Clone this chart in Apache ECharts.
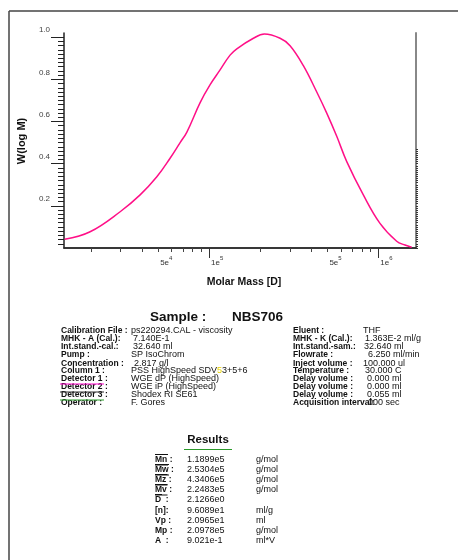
<!DOCTYPE html>
<html><head><meta charset="utf-8">
<script src="https://cdn.jsdelivr.net/npm/echarts@6/dist/echarts.min.js"></script>
<style>html,body{margin:0;padding:0;background:#fff}#c{width:458px;height:560px}</style>
</head><body><div id="c"></div>
<script>
// ---- data ----
const molarMass = [14000, 19800, 29800, 39100, 49100, 58800, 67400, 73900, 88500, 101400, 116100, 133000, 145800, 182700, 212100, 262700, 300900, 360600, 432700, 495700, 567900, 650800, 815500, 1023000, 1284000, 1438000, 1575000];
const wlogM     = [0.041, 0.077, 0.172, 0.252, 0.338, 0.426, 0.500, 0.550, 0.690, 0.775, 0.845, 0.915, 0.945, 0.995, 1.015, 0.995, 0.960, 0.865, 0.740, 0.640, 0.530, 0.410, 0.252, 0.117, 0.032, 0.014, 0.004];
const yTickValues = [0.2, 0.4, 0.6, 0.8, 1.0];
const xMinorTickValues = [2e4,3e4,4e4,5e4,6e4,7e4,8e4,9e4,2e5,3e5,4e5,5e5,6e5,7e5,8e5,9e5];
const xMajorTickValues = [1e5, 1e6];
const xLabelValues = [5e4, 1e5, 5e5, 1e6];
const xMin = 13880, xMax = 1670000, yMax = 1.02;

const sampleName = 'NBS706';
const leftLabels = ['Calibration File :', 'MHK - A (Cal.):', 'Int.stand.-cal.:', 'Pump :', 'Concentration :', 'Column 1 :', 'Detector 1 :', 'Detector 2 :', 'Detector 3 :', 'Operator :'];
const leftValues = ['ps220294.CAL - viscosity', '7.140E-1', '32.640 ml', 'SP IsoChrom', '2.817 g/l', 'PSS HighSpeed SDV{y|5}3+5+6', 'WGE dP (HighSpeed)', 'WGE iP (HighSpeed)', 'Shodex RI SE61', 'F. Gores'];
const rightLabels = ['Eluent :', 'MHK - K (Cal.):', 'Int.stand.-sam.:', 'Flowrate :', 'Inject volume :', 'Temperature :', 'Delay volume :', 'Delay volume :', 'Delay volume :', 'Acquisition interval:'];
const rightValues = ['THF', '1.363E-2 ml/g', '32.640 ml', '6.250 ml/min', '100.000 ul', '30.000 C', '0.000 ml', '0.000 ml', '0.055 ml', '000 sec'];
const resultLabels = ['Mn :', 'Mw :', 'Mz :', 'Mv :', 'D  :', '[n]:', 'Vp :', 'Mp :', 'A  :'];
const resultValues = ['1.1899e5', '2.5304e5', '4.3406e5', '2.2483e5', '2.1266e0', '9.6089e1', '2.0965e1', '2.0978e5', '9.021e-1'];
const resultUnits = ['g/mol', 'g/mol', 'g/mol', 'g/mol', '', 'ml/g', 'ml', 'g/mol', 'ml*V'];

// ---- layout helpers ----
const FAM = '"Liberation Sans", Arial, sans-serif';
const yMinorTickValues = [];
for (let i = 1; i < 50; i++) { if (i % 10 !== 0) yMinorTickValues.push(Math.round(i * 2) / 100); }
const rightMarks = [];
for (let i = 0; i <= 47; i++) rightMarks.push(i / 100);

function txt(x, y, text, o) {
  o = o || {};
  return { type: 'text', x: x, y: y, silent: true, z: 10,
    style: { text: text, fill: o.fill || '#111', font: (o.bold ? 'bold ' : '') + (o.size || 9) + 'px ' + FAM,
      align: o.align || 'left', verticalAlign: 'middle', rich: o.rich } };
}
function ln(x1, y1, x2, y2, stroke, w) {
  return { type: 'line', silent: true, z: 10, shape: { x1: x1, y1: y1, x2: x2, y2: y2 }, style: { stroke: stroke, lineWidth: w || 1 } };
}

const graphics = [];
graphics.push(ln(9, 11, 458, 11, '#444', 1.5));
graphics.push(ln(9, 11, 9, 560, '#444', 1.5));
graphics.push({ type: 'text', x: 22, y: 141, rotation: Math.PI / 2, silent: true,
  style: { text: 'W(log M)', fill: '#111', font: 'bold 11px ' + FAM, align: 'center', verticalAlign: 'middle' } });
graphics.push(txt(244, 282, 'Molar Mass [D]', { bold: true, size: 10.5, align: 'center' }));
graphics.push(txt(150, 317, 'Sample :', { bold: true, size: 13.5 }));
graphics.push(txt(232, 317, sampleName, { bold: true, size: 13.5 }));

const LB = 8.5;
const leftY = [331, 339, 347, 355, 364, 371, 379, 387, 395, 403];
const leftValX = [131, 133, 133, 131, 134, 131, 131, 131, 131, 131];
const rightValX = [363, 365, 364, 368, 363, 365, 367, 367, 367, 368];
leftLabels.forEach((t, i) => graphics.push(txt(61, leftY[i], t, { bold: true, size: LB })));
leftValues.forEach((t, i) => graphics.push(txt(leftValX[i], leftY[i], t, { rich: { y: { fill: '#e6d200', font: '9px ' + FAM } } })));
rightLabels.forEach((t, i) => graphics.push(txt(293, leftY[i], t, { bold: true, size: LB })));
rightValues.forEach((t, i) => graphics.push(txt(rightValX[i], leftY[i], t)));
graphics.push(ln(60, 384, 104, 384, '#ff00cc', 1));
graphics.push(ln(60, 392, 104, 392, '#333', 1));
graphics.push(ln(60, 400, 104, 400, '#2aa02a', 1));

graphics.push(txt(208, 440, 'Results', { bold: true, size: 11.5, align: 'center' }));
graphics.push(ln(184, 449.5, 232, 449.5, '#2a9a2a', 1));
const resY = [460, 470, 480, 490, 500, 511, 521, 531, 541];
const markW = [13, 14, 12.5, 12.5, 7];
resultLabels.forEach((t, i) => {
  graphics.push(txt(155, resY[i], t, { bold: true, size: LB }));
  graphics.push(txt(187, resY[i], resultValues[i]));
  if (resultUnits[i]) graphics.push(txt(256, resY[i], resultUnits[i]));
  if (i < 5) graphics.push(ln(155, resY[i] - 5.5, 155 + markW[i], resY[i] - 5.5, '#111', 1));
  if (i < 4) graphics.push(ln(155, resY[i] + 5, 155 + markW[i], resY[i] + 5, '#111', 1));
});

function xFmt(v) {
  const e = Math.floor(Math.log10(v) + 1e-9);
  const m = Math.round(v / Math.pow(10, e));
  return '{b|' + m + 'e}{s|' + e + '}';
}

const chart = echarts.init(document.getElementById('c'));
chart.setOption({
  animation: false,
  backgroundColor: '#fff',
  textStyle: { fontFamily: FAM },
  grid: { left: 64, top: 33, right: 42, bottom: 312, containLabel: false, outerBoundsMode: 'none' },
  xAxis: [
    { type: 'log', min: xMin, max: xMax, position: 'bottom',
      axisLine: { show: true, lineStyle: { color: '#555', width: 1.5 } },
      axisTick: { show: true, customValues: xMinorTickValues, length: 4, lineStyle: { color: '#444', width: 1 } },
      minorTick: { show: false }, splitLine: { show: false },
      axisLabel: { customValues: xLabelValues, formatter: xFmt, align: 'left', margin: 7, padding: [0, 0, 0, 2],
        rich: { b: { fontSize: 8, color: '#333', lineHeight: 12, verticalAlign: 'bottom', fontFamily: FAM },
                s: { fontSize: 6, color: '#333', lineHeight: 12, verticalAlign: 'top', fontFamily: FAM } } } },
    { type: 'log', min: xMin, max: xMax, position: 'bottom',
      axisLine: { show: false },
      axisTick: { show: true, customValues: xMajorTickValues, length: 10, lineStyle: { color: '#333', width: 1 } },
      axisLabel: { show: false }, splitLine: { show: false } },
    { type: 'log', min: xMin, max: xMax, position: 'top',
      axisLine: { show: true, lineStyle: { color: '#222', width: 1.5 } },
      axisTick: { show: false }, axisLabel: { show: false }, splitLine: { show: false } }
  ],
  yAxis: [
    { type: 'value', min: 0, max: yMax, position: 'left',
      axisLine: { show: true, lineStyle: { color: '#222', width: 1.5 } },
      axisTick: { show: true, customValues: yTickValues, length: 13, lineStyle: { color: '#222', width: 1 } },
      axisLabel: { customValues: yTickValues, formatter: v => v.toFixed(1), margin: 14, fontSize: 8, color: '#444',
        verticalAlign: 'bottom', padding: [0, 0, 3, 0], fontFamily: FAM },
      splitLine: { show: false } },
    { type: 'value', min: 0, max: yMax, position: 'left',
      axisLine: { show: false },
      axisTick: { show: true, customValues: yMinorTickValues, length: 6, lineStyle: { color: '#222', width: 1 } },
      axisLabel: { show: false }, splitLine: { show: false } },
    { type: 'value', min: 0, max: yMax, position: 'right',
      axisLine: { show: true, lineStyle: { color: '#888', width: 2 } },
      axisTick: { show: true, customValues: rightMarks, length: 2, lineStyle: { color: '#333', width: 1 } },
      axisLabel: { show: false }, splitLine: { show: false } }
  ],
  series: [{
    type: 'line', xAxisIndex: 0, yAxisIndex: 0,
    data: molarMass.map((m, i) => [m, wlogM[i]]),
    showSymbol: false, smooth: 0.4, clip: false,
    lineStyle: { color: '#ff0f87', width: 1.5 }
  }],
  graphic: graphics
});
</script></body></html>
